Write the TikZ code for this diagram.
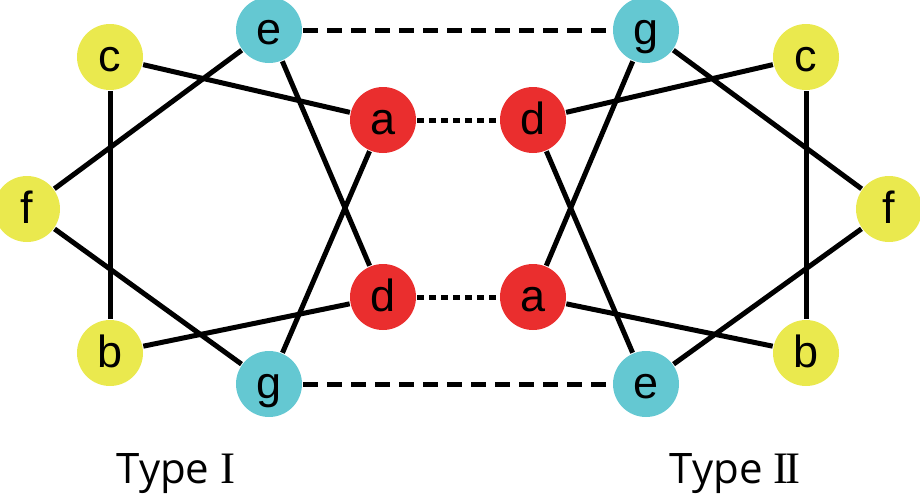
\documentclass[tikz,border=0pt]{standalone}
\usepackage{fontspec}
\setmainfont{Liberation Sans}
\newfontfamily\labfont{Open Sans}
\newfontfamily\numfont{Liberation Serif}
\definecolor{yel}{RGB}{234,233,78}
\definecolor{cya}{RGB}{100,200,210}
\definecolor{redn}{RGB}{234,46,46}
\begin{document}
\begin{tikzpicture}[x=1pt,y=-1pt,
  vtx/.style={circle,minimum size=66pt,inner sep=0pt,outer sep=1pt,
    font=\fontsize{45}{45}\selectfont,text height=29pt,text depth=0pt},
  yv/.style={vtx,fill=yel},
  cv/.style={vtx,fill=cya},
  rv/.style={vtx,fill=redn},
  edge/.style={line width=5pt,black},
  longdash/.style={line width=5pt,black,dash pattern=on 15pt off 9pt},
  shortdash/.style={line width=5pt,black,dash pattern=on 7pt off 5pt},
  lab/.style={font=\labfont\fontsize{42}{42}\selectfont,anchor=base}
]
\useasboundingbox (0,0) rectangle (920,496);
% left (Type I)
\node[yv] (lc) at (110,57) {c};
\node[yv] (lf) at (27,209) {f};
\node[yv] (lb) at (110,353) {b};
\node[cv] (le) at (269,30) {e};
\node[cv] (lg) at (269,384) {g};
\node[rv] (la) at (383,120) {a};
\node[rv] (ld) at (383,297) {d};
% right (Type II)
\node[cv] (rg) at (646,30) {g};
\node[yv] (rc) at (806,57) {c};
\node[yv] (rf) at (889,209) {f};
\node[yv] (rb) at (806,353) {b};
\node[cv] (re) at (646,384) {e};
\node[rv] (rd) at (533,120) {d};
\node[rv] (ra) at (533,297) {a};
% edges left
\draw[edge] (lc) -- (lb);
\draw[edge] (lc) -- (la);
\draw[edge] (le) -- (lf);
\draw[edge] (le) -- (ld);
\draw[edge] (lf) -- (lg);
\draw[edge] (lb) -- (ld);
\draw[edge] (lg) -- (la);
% edges right
\draw[edge] (rc) -- (rb);
\draw[edge] (rc) -- (rd);
\draw[edge] (rg) -- (rf);
\draw[edge] (rg) -- (ra);
\draw[edge] (rf) -- (re);
\draw[edge] (rb) -- (ra);
\draw[edge] (re) -- (rd);
% links
\draw[longdash] (le) -- (rg);
\draw[longdash] (lg) -- (re);
\draw[shortdash] (la) -- (rd);
\draw[shortdash] (ld) -- (ra);
% labels
\node[lab] (t1) at (176,483) {Type {\numfont\fontsize{45}{45}\selectfont I}};
\node[lab] (t2) at (735,483) {Type {\numfont\fontsize{45}{45}\selectfont I\kern-3.5pt I}};
\end{tikzpicture}
\end{document}
